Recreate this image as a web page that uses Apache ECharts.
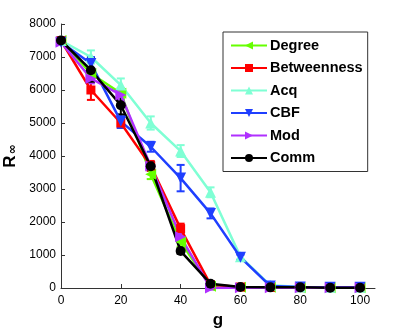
<!DOCTYPE html>
<html>
<head>
<meta charset="utf-8">
<script src="https://cdn.jsdelivr.net/npm/echarts@6/dist/echarts.min.js"></script>
<style>
  html, body { margin: 0; padding: 0; background: #fff; }
  #chart { width: 415px; height: 332px; }
</style>
</head>
<body>
<div id="chart"></div>
<script>
// fraction of nodes removed (g) and the giant component size R_inf
const g = [0, 10, 20, 30, 40, 50, 60, 70, 80, 90, 100];

const degree      = [7500, 6500, 5900, 3450, 1400, 50, 20, 20, 10, 10, 10];
const betweenness = [7500, 6000, 5000, 3700, 1800, 100, 30, 20, 10, 10, 10];
const acq         = [7500, 7000, 6150, 5000, 4150, 2900, 950, 80, 30, 20, 20];
const cbf         = [7450, 6800, 5050, 4280, 3330, 2260, 930, 60, 30, 20, 20];
const mod         = [7450, 6350, 5850, 3700, 1550, 0, 10, 10, 10, 10, 10];
const comm        = [7500, 6600, 5540, 3690, 1120, 130, 30, 20, 20, 10, 10];

// error bar half widths
const degreeErr      = [50, 150, 150, 150, 150, 50, 0, 0, 0, 0, 0];
const betweennessErr = [50, 300, 150, 150, 150, 50, 0, 0, 0, 0, 0];
const acqErr         = [50, 200, 200, 200, 180, 150, 80, 30, 0, 0, 0];
const cbfErr         = [50, 200, 200, 150, 400, 150, 80, 30, 0, 0, 0];
const modErr         = [50, 150, 150, 100, 100, 50, 0, 0, 0, 0, 0];
const commErr        = [50, 350, 280, 120, 80, 50, 0, 0, 0, 0, 0];

const xTicks = [0, 20, 40, 60, 80, 100];

const defs = [
  { name: 'Degree', vals: degree, err: degreeErr, color: '#66ff00', symbol: 'triangle', rot: 90, size: 11 },
  { name: 'Betweenness', vals: betweenness, err: betweennessErr, color: '#ff0000', symbol: 'rect', rot: 0, size: 9 },
  { name: 'Acq', vals: acq, err: acqErr, color: '#7fffd4', symbol: 'triangle', rot: 0, size: 11 },
  { name: 'CBF', vals: cbf, err: cbfErr, color: '#1f3fff', symbol: 'triangle', rot: 180, size: 11 },
  { name: 'Mod', vals: mod, err: modErr, color: '#b030ff', symbol: 'triangle', rot: -90, size: 11 },
  { name: 'Comm', vals: comm, err: commErr, color: '#000000', symbol: 'circle', rot: 0, size: 10 }
];

let chart = echarts.init(document.getElementById('chart'), null, { renderer: 'canvas' });

function errSeries(d) {
  return {
    type: 'custom',
    name: d.name + ' err',
    data: g.map((x, i) => [x, d.vals[i], d.err[i]]),
    renderItem: function (params, api) {
      let x = api.value(0), y = api.value(1), e = api.value(2);
      if (!e) return;
      let hi = api.coord([x, y + e]);
      let lo = api.coord([x, y - e]);
      let w = 4;
      let st = { stroke: d.color, lineWidth: 2 };
      return {
        type: 'group',
        children: [
          { type: 'line', shape: { x1: hi[0], y1: hi[1], x2: lo[0], y2: lo[1] }, style: st },
          { type: 'line', shape: { x1: hi[0] - w, y1: hi[1], x2: hi[0] + w, y2: hi[1] }, style: st },
          { type: 'line', shape: { x1: lo[0] - w, y1: lo[1], x2: lo[0] + w, y2: lo[1] }, style: st }
        ]
      };
    },
    silent: true,
    animation: false
  };
}

let series = [];
defs.forEach(d => {
  series.push(errSeries(d));
  series.push({
    type: 'line',
    name: d.name,
    data: g.map((x, i) => [x, d.vals[i]]),
    symbol: d.symbol,
    symbolRotate: d.rot,
    symbolSize: d.size,
    showAllSymbol: true,
    lineStyle: { color: d.color, width: 2.5 },
    itemStyle: { color: d.color },
    animation: false
  });
});

let option = {
  backgroundColor: '#ffffff',
  grid: { left: 61, top: 24, right: 40, bottom: 44, containLabel: false, outerBoundsMode: 'none' },
  legend: {
    data: defs.map(d => d.name),
    orient: 'vertical',
    left: 223,
    top: 32,
    padding: [6, 5, 6, 7],
    itemGap: 7.5,
    itemWidth: 36,
    itemHeight: 10,
    borderColor: '#333',
    borderWidth: 1,
    backgroundColor: '#fff',
    textStyle: { fontFamily: 'Liberation Sans', fontWeight: 'bold', fontSize: 14.5, color: '#000', padding: [0, 0, 0, -2] }
  },
  xAxis: {
    type: 'value',
    min: 0,
    max: 105,
    interval: 20,
    name: 'g',
    nameLocation: 'middle',
    nameGap: 24,
    nameTextStyle: { fontFamily: 'Liberation Sans', fontWeight: 'bold', fontSize: 17, color: '#000' },
    axisLine: { lineStyle: { color: '#333', width: 1 } },
    axisTick: { inside: true, length: 4, customValues: xTicks, lineStyle: { color: '#333' } },
    axisLabel: { customValues: xTicks, margin: 7, fontFamily: 'Liberation Sans', fontSize: 12, color: '#000' },
    splitLine: { show: false }
  },
  yAxis: {
    type: 'value',
    min: 0,
    max: 8000,
    interval: 1000,
    name: 'R{s|∞}',
    nameLocation: 'middle',
    nameRotate: 90,
    nameGap: 41,
    nameTextStyle: {
      fontFamily: 'Liberation Sans', fontWeight: 'bold', fontSize: 17, color: '#000',
      rich: { s: { fontFamily: 'DejaVu Sans', fontSize: 12, color: '#000', verticalAlign: 'bottom', padding: [0, 0, 0, 1] } }
    },
    axisLine: { show: true, lineStyle: { color: '#333', width: 1 } },
    axisTick: { show: true, inside: true, length: 4, lineStyle: { color: '#333' } },
    axisLabel: { margin: 5, fontFamily: 'Liberation Sans', fontSize: 12, color: '#000', formatter: v => String(v) },
    splitLine: { show: false }
  },
  series: series
};

chart.setOption(option);
</script>
</body>
</html>
